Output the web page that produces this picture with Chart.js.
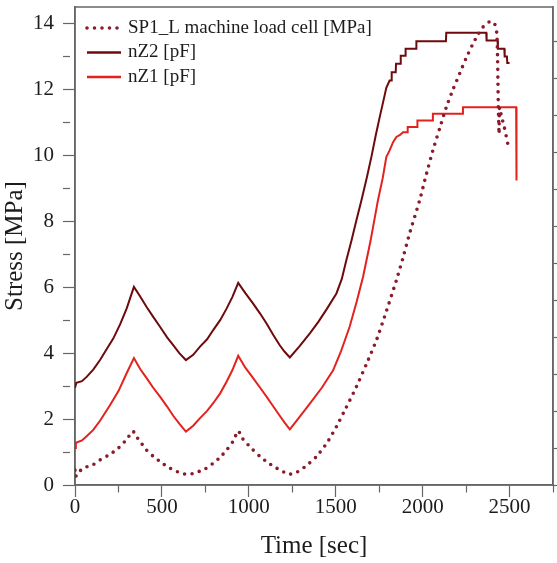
<!DOCTYPE html>
<html>
<head>
<meta charset="utf-8">
<script src="https://cdn.jsdelivr.net/npm/chart.js@4.4.1/dist/chart.umd.min.js"></script>
<style>
html, body { margin: 0; padding: 0; background: #fff; }
#chart { display: block; }
</style>
</head>
<body>
<canvas id="chart" width="557" height="563"></canvas>
<script>
/* Stress vs time: machine load cell and two capacitance sensors */

// SP1_L machine load cell [MPa]
var sp1Time = [0, 4, 15, 67, 105, 144, 201, 250, 297, 333, 360, 412, 450, 489, 530, 565, 605, 645,
	680, 718, 760, 795, 835, 872, 910, 939, 965, 1025, 1065, 1102, 1140, 1178, 1210, 1240,
	1280, 1330, 1389, 1450, 1504, 1560, 1619, 1675, 1734, 1790, 1849, 1890, 1925, 1983, 2020,
	2059, 2100, 2136, 2175, 2213, 2250, 2289, 2320, 2347, 2370, 2390, 2410, 2420, 2427, 2431,
	2433, 2435, 2437, 2440, 2442, 2455, 2470, 2490];
var sp1Stress = [0.45, 0.25, 0.38, 0.55, 0.62, 0.76, 0.93, 1.12, 1.38, 1.63, 1.42, 1.06, 0.87, 0.71, 0.56, 0.46, 0.37, 0.32,
	0.35, 0.42, 0.52, 0.66, 0.84, 1.06, 1.33, 1.64, 1.40, 1.06, 0.86, 0.71, 0.57, 0.46, 0.37, 0.33,
	0.40, 0.58, 0.86, 1.28, 1.77, 2.35, 2.98, 3.65, 4.39, 5.25, 6.21, 6.95, 7.63, 8.64, 9.40,
	10.15, 10.85, 11.46, 12.00, 12.48, 12.95, 13.38, 13.68, 13.89, 14.01, 14.06, 14.03, 13.90, 13.69, 13.00,
	12.30, 11.60, 11.10, 10.65, 11.45, 11.15, 10.85, 10.35];

// nZ2 [pF]
var nz2Time = [0, 8, 40, 67, 105, 144, 180, 220, 260, 297, 339, 375, 412, 450, 489, 530, 565, 600, 638,
	680, 718, 760, 795, 835, 872, 905, 939, 980, 1025, 1065, 1102, 1140, 1178, 1205, 1236,
	1290, 1351, 1400, 1450, 1504, 1535, 1561, 1590, 1619, 1648, 1680, 1707, 1730, 1753, 1772, 1791,
	1810, 1820, 1822, 1845, 1847, 1872, 1874, 1900, 1902, 1962, 1964, 2134, 2136, 2366, 2368, 2431,
	2433, 2470, 2472, 2485, 2487, 2500];
var nz2Stress = [2.95, 3.10, 3.15, 3.28, 3.50, 3.79, 4.10, 4.44, 4.88, 5.35, 6.01, 5.72, 5.40, 5.10, 4.80, 4.48, 4.24, 4.00, 3.79,
	3.95, 4.19, 4.42, 4.70, 5.00, 5.35, 5.70, 6.13, 5.82, 5.50, 5.20, 4.90, 4.56, 4.24, 4.05, 3.87,
	4.20, 4.60, 4.95, 5.35, 5.81, 6.25, 6.82, 7.40, 8.03, 8.64, 9.35, 10.00, 10.60, 11.16, 11.60, 12.05,
	12.27, 12.27, 12.52, 12.52, 12.78, 12.78, 13.02, 13.02, 13.23, 13.23, 13.46, 13.46, 13.72, 13.72, 13.48, 13.48,
	13.23, 13.23, 13.00, 13.00, 12.80, 12.80];

// nZ1 [pF]
var nz1Time = [0, 5, 40, 67, 105, 144, 201, 250, 297, 339, 375, 412, 450, 489, 530, 565, 600, 638,
	680, 718, 760, 795, 835, 872, 905, 939, 980, 1025, 1065, 1102, 1140, 1178, 1205, 1236,
	1290, 1351, 1420, 1485, 1530, 1580, 1620, 1657, 1700, 1743, 1770, 1791, 1810, 1830, 1849, 1870,
	1887, 1912, 1914, 1968, 1970, 2057, 2059, 2230, 2232, 2538, 2540];
var nz1Stress = [1.12, 1.28, 1.35, 1.48, 1.67, 1.95, 2.42, 2.85, 3.39, 3.85, 3.52, 3.24, 2.95, 2.68, 2.38, 2.10, 1.86, 1.62,
	1.80, 2.02, 2.25, 2.48, 2.78, 3.13, 3.48, 3.92, 3.56, 3.24, 2.95, 2.68, 2.39, 2.10, 1.90, 1.69,
	2.05, 2.47, 2.95, 3.48, 4.05, 4.80, 5.55, 6.31, 7.40, 8.64, 9.30, 9.95, 10.15, 10.40, 10.56, 10.62,
	10.70, 10.70, 10.86, 10.86, 11.06, 11.06, 11.26, 11.26, 11.46, 11.46, 9.24];

// labelled ticks (the rest are minor)
var xTickLabels = [0, 500, 1000, 1500, 2000, 2500];
var yTickLabels = [0, 2, 4, 6, 8, 10, 12, 14];

var SERIF = "'Liberation Serif', 'Times New Roman', serif";
var AXIS = "#666666";
var INK = "#1c1c1c";

function points(t, v) {
	return t.map(function (x, i) { return { x: x, y: v[i] }; });
}

function integerTicks(scale) {
	scale.ticks = scale.ticks.filter(function (t) { return Number.isInteger(t.value); });
}

function minorDash(labels, len) {
	return function (c) {
		if (!c.tick || labels.indexOf(c.tick.value) >= 0) return [];
		return [len, 40];
	};
}

// fixed box sizes so the plot area sits where the original one does
function fixWidth(w) {
	return function (s) { s.width = w; s.paddingTop = 0; s.paddingBottom = 0; };
}

// box round the plot area
var framePlugin = {
	id: "frame",
	beforeDatasetsDraw: function (chart) {
		var a = chart.chartArea, ctx = chart.ctx;
		ctx.save();
		ctx.strokeStyle = AXIS;
		ctx.lineWidth = 1.5;
		ctx.strokeRect(a.left, a.top, a.right - a.left, a.bottom - a.top);
		ctx.restore();
	}
};

// legend drawn inside the top-left corner of the plot
var insideLegend = {
	id: "insideLegend",
	afterDraw: function (chart) {
		var a = chart.chartArea, ctx = chart.ctx;
		ctx.save();
		ctx.font = "19px " + SERIF;
		ctx.textBaseline = "middle";
		chart.data.datasets.forEach(function (ds, i) {
			var y = a.top + 21 + i * 24.5;
			var x0 = a.left + 12, x1 = a.left + 46;
			ctx.beginPath();
			ctx.strokeStyle = ds.borderColor;
			ctx.lineWidth = ds.legendWidth || ds.borderWidth;
			ctx.lineCap = ds.borderCapStyle || "butt";
			ctx.setLineDash(ds.borderDash || []);
			ctx.moveTo(x0, y);
			ctx.lineTo(x1, y);
			ctx.stroke();
			ctx.setLineDash([]);
			ctx.fillStyle = INK;
			ctx.fillText(ds.label, a.left + 53, y);
		});
		ctx.restore();
	}
};

new Chart(document.getElementById("chart"), {
	type: "line",
	data: {
		datasets: [
			{
				label: "SP1_L machine load cell [MPa]",
				data: points(sp1Time, sp1Stress),
				borderColor: "#8a1b2b",
				borderWidth: 3.6,
				borderDash: [0, 7.5],
				borderCapStyle: "round",
				pointRadius: 0,
				tension: 0.2
			},
			{
				label: "nZ2 [pF]",
				data: points(nz2Time, nz2Stress),
				borderColor: "#6e0a0c",
				borderWidth: 2,
				legendWidth: 2.4,
				pointRadius: 0,
				tension: 0
			},
			{
				label: "nZ1 [pF]",
				data: points(nz1Time, nz1Stress),
				borderColor: "#e3211d",
				borderWidth: 2,
				legendWidth: 2.4,
				pointRadius: 0,
				tension: 0
			}
		]
	},
	options: {
		responsive: false,
		animation: false,
		layout: { padding: { top: 7, left: 0, right: 0, bottom: 0 } },
		plugins: { legend: { display: false }, tooltip: { enabled: false } },
		scales: {
			x: {
				type: "linear",
				position: "bottom",
				min: 0,
				max: 2750,
				ticks: {
					stepSize: 250,
					autoSkip: false,
					maxRotation: 0,
					padding: -2,
					color: INK,
					font: { family: SERIF, size: 21 },
					callback: function (v) { return xTickLabels.indexOf(v) >= 0 ? String(v) : ""; }
				},
				grid: {
					drawOnChartArea: false,
					tickLength: 12,
					tickColor: AXIS,
					tickWidth: 1.2,
					tickBorderDash: minorDash(xTickLabels, 7)
				},
				border: { color: AXIS, width: 1.5 },
				title: {
					display: true,
					text: "Time [sec]",
					color: INK,
					font: { family: SERIF, size: 25 },
					padding: { top: 0, bottom: 2 }
				},
				afterFit: function (s) { s.height = 78; s.paddingRight = 0; }
			},
			y: {
				position: "left",
				min: 0,
				max: 14.5,
				afterBuildTicks: integerTicks,
				ticks: {
					stepSize: 1,
					includeBounds: false,
					padding: 9,
					color: INK,
					font: { family: SERIF, size: 21 },
					callback: function (v) { return yTickLabels.indexOf(v) >= 0 ? String(v) : ""; }
				},
				grid: {
					drawOnChartArea: false,
					tickLength: 12,
					tickColor: AXIS,
					tickWidth: 1.2,
					tickBorderDash: minorDash(yTickLabels, 7)
				},
				border: { color: AXIS, width: 1.5 },
				title: {
					display: true,
					text: "Stress [MPa]",
					color: INK,
					font: { family: SERIF, size: 25 },
					padding: { top: 0, bottom: 0 }
				},
				afterFit: fixWidth(75)
			},
			y2: {
				position: "right",
				min: 0,
				max: 12.92,
				afterBuildTicks: integerTicks,
				ticks: { display: false, stepSize: 1, includeBounds: false },
				grid: { drawOnChartArea: false, tickLength: 5, tickColor: AXIS, tickWidth: 1.2 },
				border: { color: AXIS, width: 1.5 },
				afterFit: fixWidth(4)
			}
		}
	},
	plugins: [framePlugin, insideLegend]
});
</script>
</body>
</html>
